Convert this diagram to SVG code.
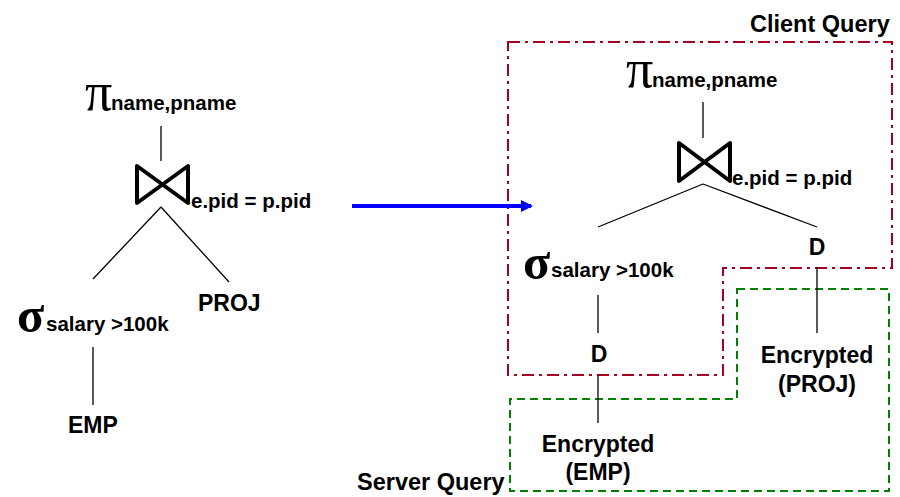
<svg xmlns="http://www.w3.org/2000/svg" width="900" height="497" viewBox="0 0 900 497">
<style>
.t{font-family:"Liberation Sans",Arial,sans-serif;font-weight:bold;fill:#000}
.s{font-size:20.5px}
.n{font-size:23px}
.g{font-family:"Liberation Serif","Times New Roman",serif;fill:#000}
.e{stroke:#000;stroke-width:1.3;fill:none}
.bt{stroke:#000;stroke-width:4;fill:none;stroke-linejoin:round}
</style>
<defs>
<marker id="ah" markerWidth="12" markerHeight="12" refX="10" refY="6" orient="auto" markerUnits="userSpaceOnUse">
<path d="M0,0 L12,6 L0,12 Z" fill="#0000ff"/>
</marker>
</defs>
<rect width="900" height="497" fill="#fff"/>
<g id="regions">
<path d="M508,42 H892 V268 H723 V375 H508 Z" fill="none" stroke="#a50021" stroke-width="2" stroke-dasharray="12,5,3,5"/>
<path d="M737,289 H889 V491 H510 V399 H737 Z" fill="none" stroke="#008000" stroke-width="2" stroke-dasharray="8,5"/>
<text class="t" x="750" y="32" font-size="23.5">Client Query</text>
<text class="t" x="357" y="490" font-size="23.5">Server Query</text>
</g>
<g id="connectors">
<line class="e" x1="161" y1="126" x2="161" y2="161"/>
<line class="e" x1="161" y1="207" x2="93" y2="279"/>
<line class="e" x1="161" y1="207" x2="229" y2="282"/>
<line class="e" x1="93" y1="347" x2="93" y2="405"/>
<line class="e" x1="703" y1="102" x2="703" y2="138"/>
<line class="e" x1="703" y1="184" x2="598" y2="227"/>
<line class="e" x1="703" y1="184" x2="817" y2="227"/>
<line class="e" x1="817" y1="267" x2="817" y2="333"/>
<line class="e" x1="598" y1="295" x2="598" y2="333"/>
<line class="e" x1="598" y1="375" x2="598" y2="423"/>
<line x1="352" y1="206" x2="531" y2="206" stroke="#0000ff" stroke-width="4" marker-end="url(#ah)"/>
</g>
<g id="left-project">
<text class="g" x="85" y="110" font-size="54">π</text>
<text class="t s" x="111" y="110">name,pname</text>
</g>
<g id="left-join">
<path class="bt" d="M137,166 V203 L188,166 V203 L137,166 Z"/>
<text class="t s" x="191" y="208">e.pid = p.pid</text>
</g>
<g id="left-select">
<text class="g" x="17" y="332" font-size="50" font-weight="bold">σ</text>
<text class="t s" x="46" y="331">salary &gt;100k</text>
</g>
<g id="left-proj"><text class="t n" x="198" y="311">PROJ</text></g>
<g id="left-emp"><text class="t n" x="68" y="433">EMP</text></g>
<g id="right-project">
<text class="g" x="626" y="87" font-size="54">π</text>
<text class="t s" x="652" y="87">name,pname</text>
</g>
<g id="right-join">
<path class="bt" d="M679,143 V181 L730,143 V181 L679,143 Z"/>
<text class="t s" x="732" y="185">e.pid = p.pid</text>
</g>
<g id="right-select">
<text class="g" x="523" y="279" font-size="50" font-weight="bold">σ</text>
<text class="t s" x="551" y="277">salary &gt;100k</text>
</g>
<g id="right-d-proj"><text class="t n" x="817" y="255" text-anchor="middle">D</text></g>
<g id="right-d-emp"><text class="t n" x="599" y="362" text-anchor="middle">D</text></g>
<g id="enc-proj">
<text class="t n" x="817" y="363" text-anchor="middle">Encrypted</text>
<text class="t n" x="817" y="392" text-anchor="middle">(PROJ)</text>
</g>
<g id="enc-emp">
<text class="t n" x="598" y="452" text-anchor="middle">Encrypted</text>
<text class="t n" x="598" y="480" text-anchor="middle">(EMP)</text>
</g>
</svg>
